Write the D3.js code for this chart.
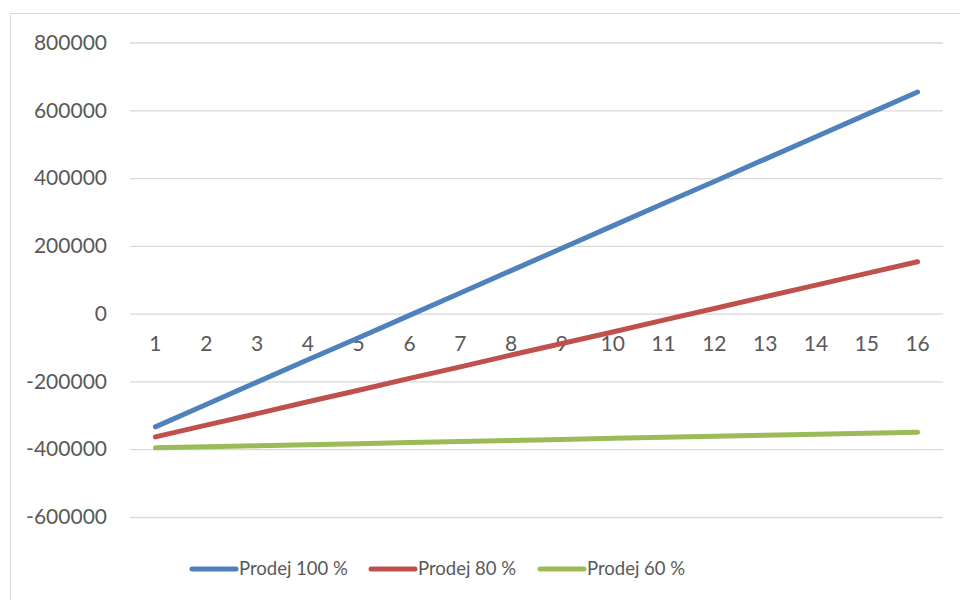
<!DOCTYPE html>
<html>
<head>
<meta charset="utf-8">
<script src="https://cdn.jsdelivr.net/npm/d3@7"></script>
<style>
  html, body { margin: 0; padding: 0; background: #fff; }
  svg { display: block; }
  text { font-family: Lato, "Open Sans", sans-serif; fill: #595959; }
</style>
</head>
<body>
<svg id="chart" width="960" height="600"></svg>
<script>
// Periods 1..16 along the x axis
const periods = [1, 2, 3, 4, 5, 6, 7, 8, 9, 10, 11, 12, 13, 14, 15, 16];

// Cumulative result for each sales scenario
const prodej100 = [-334000, -268000, -202000, -136000, -71000, -5000, 61000, 127000,
                   193000, 259000, 325000, 390000, 456000, 522000, 588000, 654000];
const prodej80  = [-363500, -329000, -295000, -260000, -226000, -191000, -157000, -122000,
                   -88000, -54000, -19000, 15000, 50000, 84000, 119000, 153000];
const prodej60  = [-396000, -393000, -390000, -387000, -384000, -380000, -377000, -374000,
                   -371000, -368000, -365000, -362000, -359000, -356000, -353000, -350000];

const seriesNames = ["Prodej 100 %", "Prodej 80 %", "Prodej 60 %"];
const yTicks = [-600000, -400000, -200000, 0, 200000, 400000, 600000, 800000];

const series = [
  { name: seriesNames[0], values: prodej100, color: "#4f81bd" },
  { name: seriesNames[1], values: prodej80,  color: "#c0504d" },
  { name: seriesNames[2], values: prodej60,  color: "#9bbb59" }
];

const svg = d3.select("#chart");

// chart frame
svg.append("rect")
  .attr("x", 10.5).attr("y", 13.5)
  .attr("width", 980).attr("height", 620)
  .attr("fill", "none").attr("stroke", "#d9d9d9").attr("stroke-width", 1);

const plot = { left: 130, right: 943, top: 42.5, bottom: 517 };

const x = d3.scaleBand().domain(periods).range([plot.left, plot.right]);
const y = d3.scaleLinear().domain([-600000, 800000]).range([plot.bottom, plot.top]);

// horizontal gridlines + value labels (plain hyphen for negatives)
const yAxis = d3.axisLeft(y).tickValues(yTicks).tickSize(-(plot.right - plot.left))
  .tickPadding(23).tickFormat(d => String(d));
const gy = svg.append("g").attr("transform", `translate(${plot.left},0)`).call(yAxis);
gy.select(".domain").remove();
gy.selectAll(".tick line").attr("stroke", "#d9d9d9").attr("stroke-width", 1.3);
gy.selectAll(".tick text").attr("font-size", 21).attr("fill", "#595959");

// category labels sit just under the zero line
const xAxis = d3.axisBottom(x).tickSize(0).tickPadding(22);
const gx = svg.append("g").attr("transform", `translate(0,${y(0)})`).call(xAxis);
gx.select(".domain").remove();
gx.selectAll(".tick text").attr("font-size", 21).attr("fill", "#595959");

// series lines
const line = d3.line()
  .x((d, i) => x(periods[i]) + x.bandwidth() / 2)
  .y(d => y(d));

svg.append("g").selectAll("path")
  .data(series)
  .join("path")
  .attr("d", d => line(d.values))
  .attr("fill", "none")
  .attr("stroke", d => d.color)
  .attr("stroke-width", 5)
  .attr("stroke-linecap", "round")
  .attr("stroke-linejoin", "round");

// legend
const legendX = [192, 371, 540];
const legendY = 569;
const lg = svg.append("g").selectAll("g")
  .data(series)
  .join("g")
  .attr("transform", (d, i) => `translate(${legendX[i]},${legendY})`);
lg.append("line")
  .attr("x1", 0).attr("x2", 44).attr("y1", 0).attr("y2", 0)
  .attr("stroke", d => d.color).attr("stroke-width", 5).attr("stroke-linecap", "round");
lg.append("text")
  .attr("x", 47).attr("y", 0).attr("dy", "0.35em")
  .attr("font-size", 18.5)
  .text(d => d.name);
</script>
</body>
</html>
